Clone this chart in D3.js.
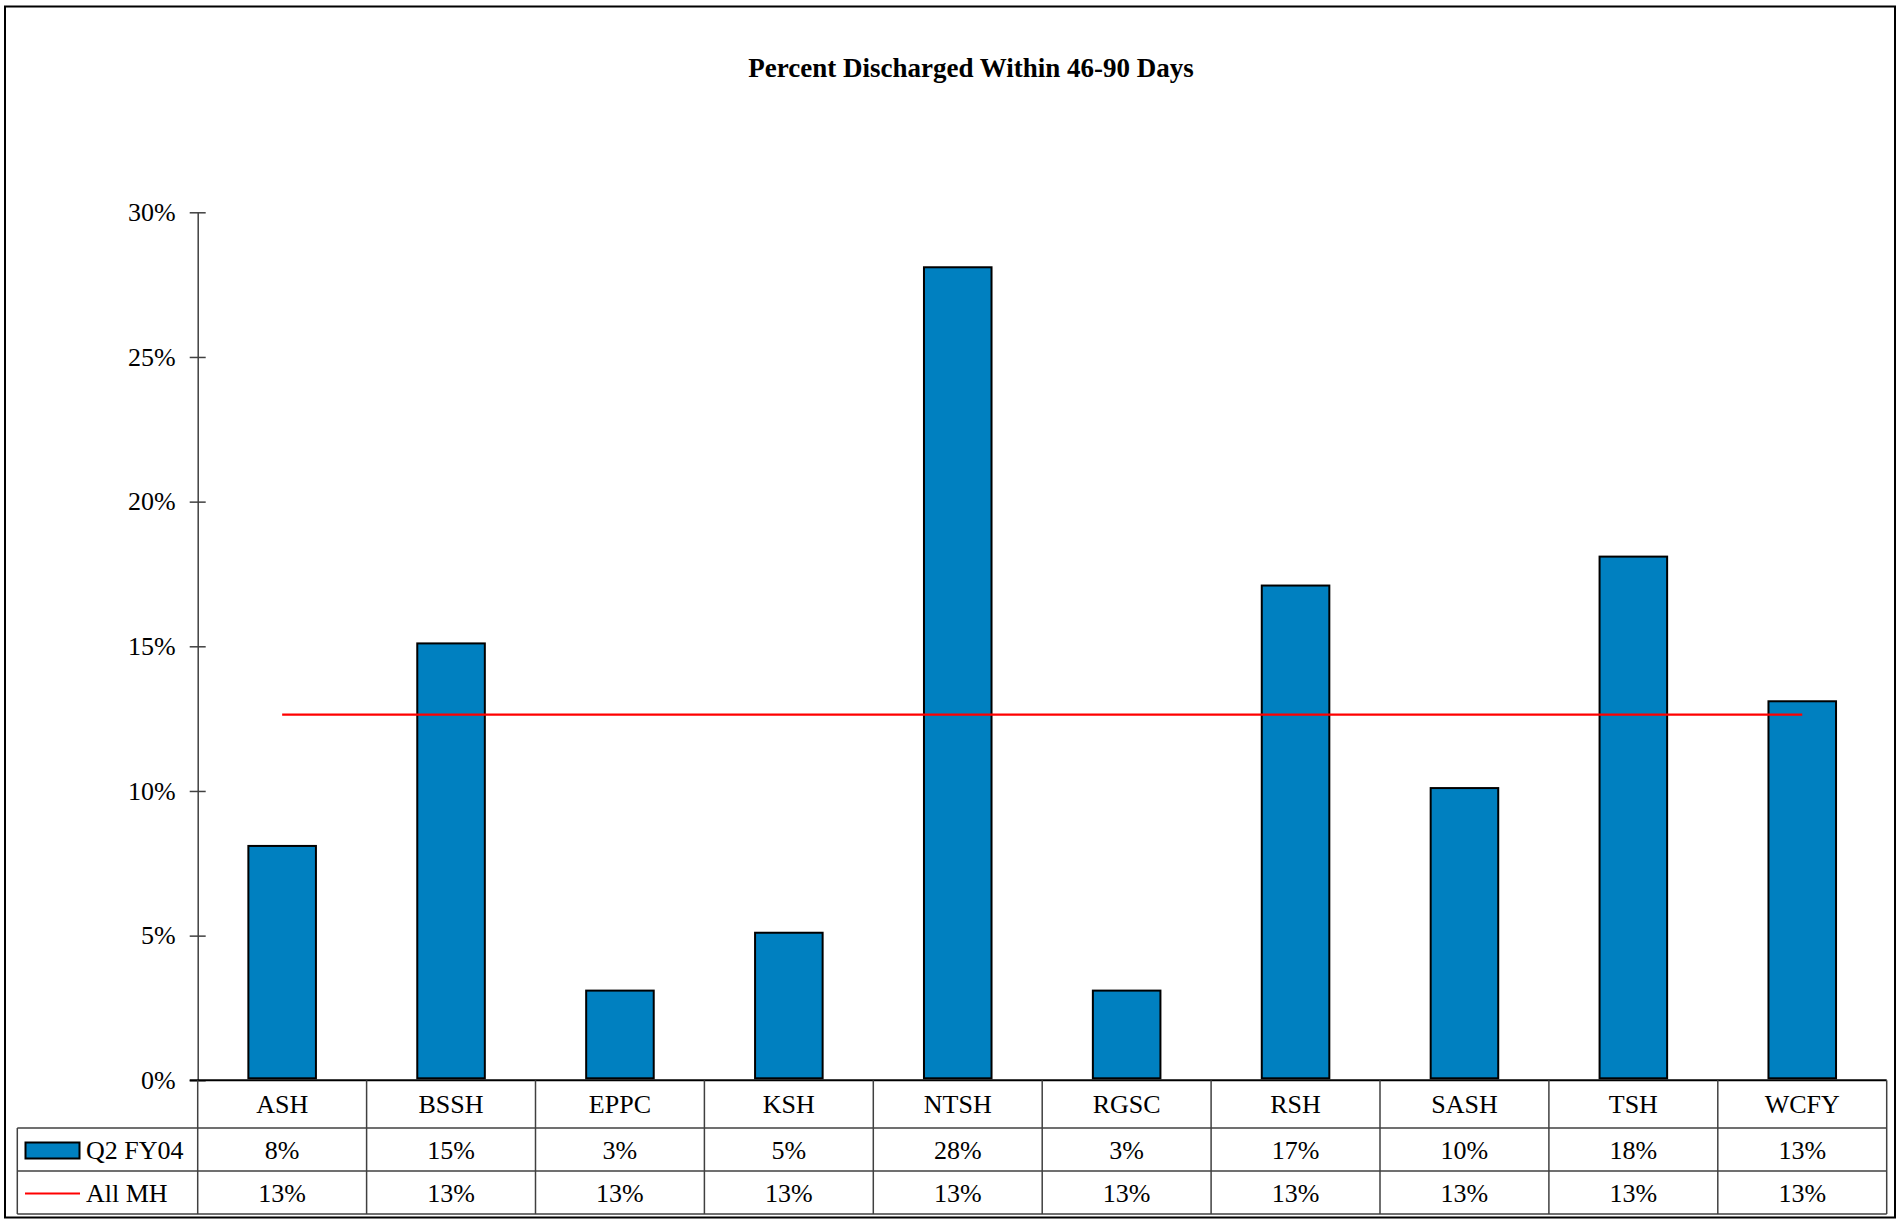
<!DOCTYPE html>
<html>
<head>
<meta charset="utf-8">
<script src="https://cdn.jsdelivr.net/npm/d3@7"></script>
<style>
  html, body { margin: 0; padding: 0; background: #fff; }
  svg { display: block; }
  text { font-family: "Liberation Serif", "Times New Roman", serif; fill: #000; }
</style>
</head>
<body>
<svg id="chart" width="1902" height="1220"></svg>
<script>
// ---- data ----
const chartTitle = "Percent Discharged Within 46-90 Days";
const categories = ["ASH", "BSSH", "EPPC", "KSH", "NTSH", "RGSC", "RSH", "SASH", "TSH", "WCFY"];
const seriesNames = ["Q2 FY04", "All MH"];
const q2Values = [0.081, 0.151, 0.031, 0.051, 0.281, 0.031, 0.171, 0.101, 0.181, 0.131];
const allMHValues = [0.1264, 0.1264, 0.1264, 0.1264, 0.1264, 0.1264, 0.1264, 0.1264, 0.1264, 0.1264];
const yTicks = [0, 0.05, 0.10, 0.15, 0.20, 0.25, 0.30];

// ---- layout ----
const plotLeft = 197.7, plotRight = 1886.7;
const plotTop = 212.3, plotBottom = 1080.3;
const row1Bottom = 1128, row2Bottom = 1171, row3Bottom = 1214;
const tableLeft = 17.3;
const barColor = "#0080C0";
const lineColor = "#FF0000";
const gridColor = "#404040";
const fontSize = 26;

const svg = d3.select("#chart");
const fmt = d3.format(".0%");

// outer border
svg.append("rect")
  .attr("x", 5).attr("y", 6.5).attr("width", 1890).attr("height", 1211)
  .attr("fill", "#fff").attr("stroke", "#000").attr("stroke-width", 2);

// title
svg.append("text")
  .attr("x", 971).attr("y", 77)
  .attr("text-anchor", "middle")
  .attr("font-weight", "bold")
  .attr("font-size", 27)
  .text(chartTitle);

// scales
const x = d3.scaleBand().domain(categories).range([plotLeft, plotRight])
  .paddingInner(0.6).paddingOuter(0.3);
const xCol = d3.scaleBand().domain(categories).range([plotLeft, plotRight]).padding(0);
const y = d3.scaleLinear().domain([0, 0.30]).range([plotBottom, plotTop]);

// y axis
const yAxis = svg.append("g")
  .attr("transform", `translate(${plotLeft},0)`)
  .call(d3.axisLeft(y).tickValues(yTicks).tickFormat(fmt)
    .tickSizeInner(8).tickSizeOuter(0).tickPadding(14));
yAxis.select(".domain").attr("stroke", gridColor).attr("stroke-width", 1.5);
yAxis.selectAll(".tick line").attr("x1", 8).attr("stroke", gridColor).attr("stroke-width", 1.5);
yAxis.selectAll(".tick text")
  .attr("font-size", fontSize)
  .attr("font-family", "'Liberation Serif', 'Times New Roman', serif")
  .attr("fill", "#000");

// bars
svg.append("g").selectAll("rect")
  .data(categories.map((c, i) => ({ c, v: q2Values[i] })))
  .join("rect")
  .attr("x", d => x(d.c))
  .attr("y", d => y(d.v))
  .attr("width", x.bandwidth())
  .attr("height", d => y(0) - y(d.v) - 2)
  .attr("fill", barColor)
  .attr("stroke", "#000")
  .attr("stroke-width", 2);

// All MH line
const line = d3.line()
  .x((d, i) => x(categories[i]) + x.bandwidth() / 2)
  .y(d => y(d));
svg.append("path")
  .datum(allMHValues)
  .attr("d", line)
  .attr("fill", "none")
  .attr("stroke", lineColor)
  .attr("stroke-width", 2.2);

// ---- data table ----
const tbl = svg.append("g");
tbl.append("line")
  .attr("x1", plotLeft - 8).attr("x2", plotRight)
  .attr("y1", plotBottom).attr("y2", plotBottom)
  .attr("stroke", "#000").attr("stroke-width", 2);
[row1Bottom, row2Bottom, row3Bottom].forEach(yy => {
  tbl.append("line")
    .attr("x1", tableLeft).attr("x2", plotRight)
    .attr("y1", yy).attr("y2", yy)
    .attr("stroke", gridColor).attr("stroke-width", 1.5);
});
const colEdges = categories.map(c => xCol(c)).concat([plotRight]);
colEdges.forEach(xx => {
  tbl.append("line")
    .attr("x1", xx).attr("x2", xx)
    .attr("y1", plotBottom).attr("y2", row3Bottom)
    .attr("stroke", gridColor).attr("stroke-width", 1.5);
});
tbl.append("line")
  .attr("x1", tableLeft).attr("x2", tableLeft)
  .attr("y1", row1Bottom).attr("y2", row3Bottom)
  .attr("stroke", gridColor).attr("stroke-width", 1.5);

const rowMid = [(plotBottom + row1Bottom) / 2, (row1Bottom + row2Bottom) / 2, (row2Bottom + row3Bottom) / 2];

tbl.selectAll("text.cat")
  .data(categories)
  .join("text")
  .attr("class", "cat")
  .attr("x", d => xCol(d) + xCol.bandwidth() / 2)
  .attr("y", rowMid[0] + 9)
  .attr("text-anchor", "middle")
  .attr("font-size", fontSize)
  .text(d => d);

[q2Values, allMHValues].forEach((vals, r) => {
  tbl.selectAll(`text.v${r}`)
    .data(vals)
    .join("text")
    .attr("class", `v${r}`)
    .attr("x", (d, i) => xCol(categories[i]) + xCol.bandwidth() / 2)
    .attr("y", rowMid[r + 1] + 9)
    .attr("text-anchor", "middle")
    .attr("font-size", fontSize)
    .text(d => fmt(d));
});

// legend keys in table
tbl.append("rect")
  .attr("x", 25.5).attr("y", 1142.5).attr("width", 54).attr("height", 16)
  .attr("fill", barColor).attr("stroke", "#000").attr("stroke-width", 2);
tbl.append("line")
  .attr("x1", 25).attr("x2", 80).attr("y1", 1193.5).attr("y2", 1193.5)
  .attr("stroke", lineColor).attr("stroke-width", 2);
seriesNames.forEach((name, r) => {
  tbl.append("text")
    .attr("x", 86).attr("y", rowMid[r + 1] + 9)
    .attr("font-size", fontSize)
    .text(name);
});
</script>
</body>
</html>
